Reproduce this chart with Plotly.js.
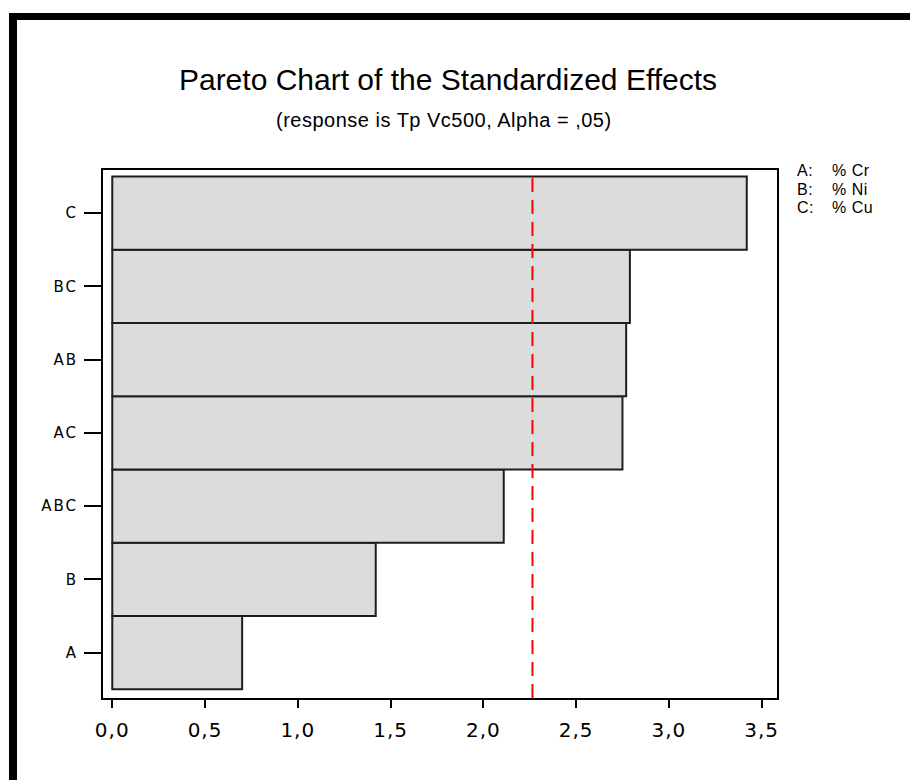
<!DOCTYPE html>
<html>
<head>
<meta charset="utf-8">
<script src="https://cdn.plot.ly/plotly-3.0.1.min.js"></script>
<style>
  html, body { margin: 0; padding: 0; background: #ffffff; }
  #wrap { position: relative; width: 910px; height: 780px; overflow: hidden; }
  #chart { position: absolute; left: 0; top: 0; width: 910px; height: 780px; }
  #frame { position: absolute; left: 9px; top: 13px; width: 960px; height: 820px;
           border-left: 8px solid #000; border-top: 7px solid #000; pointer-events: none; }
  .xtick text { letter-spacing: 1px; }
  .ytick text { letter-spacing: 2px; }
  .annotation-text { letter-spacing: 0.5px; }
</style>
</head>
<body>
<div id="wrap">
  <div id="chart"></div>
  <div id="frame"></div>
</div>
<script>
// ---- data (bottom to top) ----
var terms   = ['A', 'B', 'ABC', 'AC', 'AB', 'BC', 'C'];
var effects = [0.70, 1.42, 2.11, 2.75, 2.77, 2.79, 3.42];
var critical = 2.265;
var xTicks = [0, 0.5, 1.0, 1.5, 2.0, 2.5, 3.0, 3.5];
var legendKeys  = ['A:', 'B:', 'C:'];
var legendNames = ['% Cr', '% Ni', '% Cu'];

var titleText = 'Pareto Chart of the Standardized Effects';
var subtitleText = '(response is Tp Vc500, Alpha = ,05)';

// ---- layout geometry (pixels) ----
var W = 910, H = 780;
var M = {l: 103, r: 133, t: 170, b: 82};
var PW = W - M.l - M.r, PH = H - M.t - M.b;
function px2x(px) { return (px - M.l) / PW; }
function px2y(py) { return (H - M.b - py) / PH; }

var bars = {
  type: 'bar',
  orientation: 'h',
  x: effects,
  y: terms,
  marker: {color: '#dcdcdc', line: {color: '#1e1e1e', width: 2}},
  hoverinfo: 'x+y',
  showlegend: false
};

var annotations = [{
  text: subtitleText, xref: 'paper', yref: 'paper',
  x: px2x(444), y: px2y(120), xanchor: 'center', yanchor: 'middle',
  showarrow: false, font: {family: 'Liberation Sans, Arial, sans-serif', size: 20, color: '#000'}
}];
var legendRows = [170.5, 189, 207.5];
for (var i = 0; i < legendKeys.length; i++) {
  annotations.push({
    text: legendKeys[i], xref: 'paper', yref: 'paper', borderpad: 0,
    x: px2x(796), y: px2y(legendRows[i]), xanchor: 'left', yanchor: 'middle',
    showarrow: false, font: {family: 'Liberation Sans, Arial, sans-serif', size: 16, color: '#000'}
  });
  annotations.push({
    text: legendNames[i], xref: 'paper', yref: 'paper', borderpad: 0,
    x: px2x(831), y: px2y(legendRows[i]), xanchor: 'left', yanchor: 'middle',
    showarrow: false, font: {family: 'Liberation Sans, Arial, sans-serif', size: 16, color: '#000'}
  });
}

var layout = {
  width: W, height: H,
  margin: M,
  paper_bgcolor: '#ffffff',
  plot_bgcolor: '#ffffff',
  separators: ', ',
  bargap: 0,
  showlegend: false,
  title: {
    text: titleText,
    font: {family: 'Liberation Sans, Arial, sans-serif', size: 30, color: '#000'},
    xref: 'container', yref: 'container',
    x: 448 / W, y: 1 - 79 / H, xanchor: 'center', yanchor: 'middle'
  },
  xaxis: {
    range: [-0.05, 3.583],
    tickvals: xTicks,
    tickformat: '.1f',
    ticks: 'outside', ticklen: 8, tickwidth: 2, tickcolor: '#000',
    showline: true, mirror: true, linecolor: '#000', linewidth: 2,
    showgrid: false, zeroline: false,
    ticklabelstandoff: 5,
    tickfont: {family: 'DejaVu Sans, sans-serif', size: 20, color: '#000'}
  },
  yaxis: {
    type: 'category',
    categoryorder: 'array', categoryarray: terms,
    range: [-0.62, 6.59],
    ticks: 'outside', ticklen: 17, tickwidth: 2, tickcolor: '#000',
    showline: true, mirror: true, linecolor: '#000', linewidth: 2,
    showgrid: false, zeroline: false,
    ticklabelstandoff: 3,
    tickfont: {family: 'DejaVu Sans, sans-serif', size: 15, color: '#000'}
  },
  shapes: [{
    type: 'line', xref: 'x', yref: 'y',
    x0: critical, x1: critical, y0: -0.62, y1: terms.length - 0.5,
    line: {color: '#ff0000', width: 2, dash: '14px,8px'}
  }],
  annotations: annotations
};

Plotly.newPlot('chart', [bars], layout, {displayModeBar: false, staticPlot: true});
</script>
</body>
</html>
